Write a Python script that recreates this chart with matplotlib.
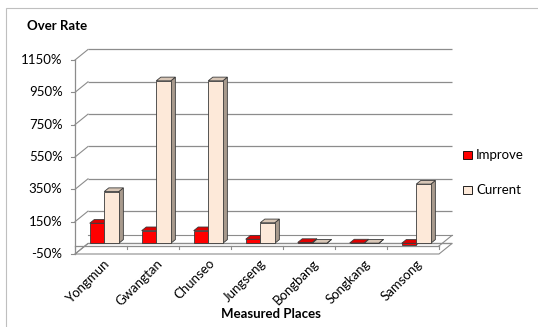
import matplotlib
matplotlib.use("Agg")
import matplotlib.pyplot as plt
from matplotlib.patches import Polygon, Rectangle

# ---- data -------------------------------------------------------------
places = ["Yongmun", "Gwangtan", "Chunseo", "Jungseng", "Bongbang", "Songkang", "Samsong"]
improve = [124, 78, 78, 25, 5, 2, -10]
current = [320, 1005, 1005, 127, 1, 1, 366]
y_ticks = [-50, 150, 350, 550, 750, 950, 1150]
y_tick_labels = ["-50%", "150%", "350%", "550%", "750%", "950%", "1150%"]
series_names = ["Improve", "Current"]

# ---- styling ----------------------------------------------------------
FONT = "Lato"
W, H = 538, 327
grid_c = "#8C8C8C"
edge_c = "#3A3A3A"
red_faces = ("#FF0000", "#E00000", "#900000")          # front, top, side
cream_faces = ("#FDE9D9", "#D8C6B6", "#A89A8D")

# oblique depth of the plot box (category units, percent units)
DX, DY = 0.25, 65.0
# bar depth range as fractions of the box depth
D0, D1 = 0.25, 0.60
BAR_W = 0.28

fig = plt.figure(figsize=(W / 100, H / 100), dpi=100)
ax = fig.add_axes([0, 0, 1, 1])
ax.set_axis_off()
# front plane: category 0 edge at x=75px, 7 at 439px; -50% at y=254px, 1150% at y=60px
px_per_cat = 52.0
px_per_pct = 194.0 / 1200.0
ax.set_xlim(-75 / px_per_cat, (W - 75) / px_per_cat)
ax.set_ylim(-50 - (H - 254) / px_per_pct, -50 + 254 / px_per_pct)

def fx(xp):
    return xp / W

def fy(yp):
    return 1 - yp / H

n = len(places)
z = 1

# floor at axis minimum
ymin = y_ticks[0]
floor = Polygon([(0, ymin), (n, ymin), (n + DX, ymin + DY), (DX, ymin + DY)],
                closed=True, facecolor="white", edgecolor=grid_c, lw=0.8, zorder=z)
ax.add_patch(floor)

# back wall gridlines and side wall diagonals
for v in y_ticks:
    ax.plot([DX, n + DX], [v + DY, v + DY], color=grid_c, lw=0.9, zorder=z + 1,
            solid_capstyle="butt")
    ax.plot([0, DX], [v, v + DY], color=grid_c, lw=0.8, zorder=z + 1)
    ax.plot([-0.08, 0], [v, v], color=grid_c, lw=0.8, zorder=z + 1)
    ax.text(-0.24, v, y_tick_labels[y_ticks.index(v)], ha="right", va="center",
            fontsize=9.5, family=FONT, color="#000000")

# vertical axis line
ax.plot([0, 0], [y_ticks[0], y_ticks[-1]], color=grid_c, lw=0.9, zorder=z + 2)

# category axis plane at 0%
ax.plot([0, n], [0, 0], color=grid_c, lw=0.9, zorder=z + 2)
ax.plot([DX, n + DX], [DY, DY], color=grid_c, lw=0.8, zorder=z + 1)
ax.plot([n, n + DX], [0, DY], color=grid_c, lw=0.8, zorder=z + 2)
for k in range(n + 1):
    ax.plot([k, k], [0, -22], color=grid_c, lw=0.8, zorder=z + 2)


def bar3d(x0, val, faces, zo):
    front_c, top_c, side_c = faces
    lo, hi = min(0, val), max(0, val)
    ox, oy = D0 * DX, D0 * DY
    dx, dy = (D1 - D0) * DX, (D1 - D0) * DY
    xa, xb = x0 + ox, x0 + BAR_W + ox
    ya, yb = lo + oy, hi + oy
    side = Polygon([(xb, ya), (xb + dx, ya + dy), (xb + dx, yb + dy), (xb, yb)],
                   closed=True, facecolor=side_c, edgecolor=edge_c, lw=0.6, zorder=zo)
    top = Polygon([(xa, yb), (xb, yb), (xb + dx, yb + dy), (xa + dx, yb + dy)],
                  closed=True, facecolor=top_c, edgecolor=edge_c, lw=0.6, zorder=zo)
    ax.add_patch(side)
    ax.add_patch(top)
    ax.bar(xa, hi - lo, width=BAR_W, bottom=ya, align="edge", color=front_c,
           edgecolor=edge_c, lw=0.6, zorder=zo)


zo = 10
for i in range(n):
    c = i + 0.5
    bar3d(c - BAR_W, improve[i], red_faces, zo)
    bar3d(c, current[i], cream_faces, zo + 1)
    zo += 2

# category labels
for i, name in enumerate(places):
    ax.text(i + 0.56, -70, name, rotation=45, rotation_mode="anchor",
            ha="right", va="top", fontsize=9.5, family=FONT, color="#000000")

# titles
fig.text(fx(27), fy(26), "Over Rate", ha="left", va="center", fontsize=9.5,
         family=FONT, weight="bold")
fig.text(fx(271), fy(314), "Measured Places", ha="center", va="center", fontsize=9.5,
         family=FONT, weight="bold")

# legend
for k, (name, faces) in enumerate(zip(series_names, [red_faces, cream_faces])):
    yc = 155 + 35 * k
    fig.patches.append(Rectangle((fx(463), fy(yc + 4)), 8.5 / W, 8.5 / H,
                                 transform=fig.transFigure, facecolor=faces[0],
                                 edgecolor="#000000", lw=0.6))
    fig.text(fx(476), fy(yc), name, ha="left", va="center", fontsize=9.5, family=FONT)

# chart area border
fig.patches.append(Rectangle((fx(6), fy(340)), 560 / W, 332 / H,
                             transform=fig.transFigure, fill=False,
                             edgecolor="#BFBFBF", lw=0.8))

fig.savefig("out.png", dpi=100)
